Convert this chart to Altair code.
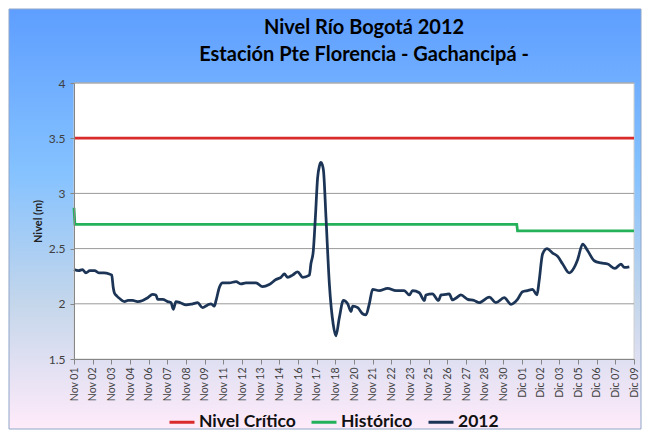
import json
import altair as alt
import pandas as pd

# ---- data -------------------------------------------------------------
x_labels = ["Nov 01", "Nov 02", "Nov 03", "Nov 04", "Nov 06", "Nov 07", "Nov 08",
            "Nov 09", "Nov 11", "Nov 12", "Nov 13", "Nov 14", "Nov 16", "Nov 17",
            "Nov 18", "Nov 20", "Nov 21", "Nov 22", "Nov 23", "Nov 25", "Nov 26",
            "Nov 27", "Nov 28", "Nov 30", "Dic 01", "Dic 02", "Dic 03", "Dic 05",
            "Dic 06", "Dic 07", "Dic 09"]
series_names = ["Nivel Crítico", "Histórico", "2012"]
series_colors = ["#d92b2b", "#25b05a", "#1c3557"]

y_ticks = [1.5, 2, 2.5, 3, 3.5, 4]
grid_values = [2, 2.5, 3, 3.5, 4]

critico_pos = [0, 30]
critico_val = [3.5, 3.5]

historico_pos = [0, 0.05, 23.72, 23.76, 30]
historico_val = [2.87, 2.72, 2.72, 2.66, 2.66]

y2012_pos = [0.00, 0.25, 0.45, 0.64, 0.85, 1.10, 1.36, 1.60, 1.89, 2.02, 2.10, 2.16,
             2.30, 2.43, 2.70, 2.90, 3.14, 3.40, 3.68, 3.95, 4.21, 4.39, 4.48, 4.75,
             5.02, 5.20, 5.32, 5.46, 5.70, 6.00, 6.36, 6.62, 6.89, 7.16, 7.34, 7.52,
             7.61, 7.79, 7.96, 8.32, 8.68, 8.95, 9.21, 9.57, 9.75, 10.10, 10.46, 10.82,
             11.09, 11.27, 11.45, 11.71, 11.98, 12.25, 12.61, 12.69, 12.82, 12.93, 13.05,
             13.15, 13.23, 13.30, 13.37, 13.50, 13.68, 13.89, 14.03, 14.21, 14.43, 14.66,
             14.84, 14.93, 15.20, 15.46, 15.64, 15.82, 16.00, 16.35, 16.80, 17.25, 17.69,
             17.96, 18.14, 18.50, 18.77, 18.85, 19.20, 19.53, 19.66, 19.93, 20.10, 20.28,
             20.45, 20.73, 21.09, 21.44, 21.71, 22.25, 22.60, 23.05, 23.41, 23.76, 24.03,
             24.30, 24.57, 24.80, 24.92, 25.10, 25.34, 25.64, 25.91, 26.18, 26.53, 26.80,
             26.98, 27.25, 27.52, 27.87, 28.23, 28.59, 28.98, 29.30, 29.48, 29.75]
y2012_val = [2.31, 2.30, 2.31, 2.28, 2.30, 2.30, 2.28, 2.28, 2.27, 2.26, 2.15, 2.10,
             2.07, 2.05, 2.02, 2.03, 2.03, 2.02, 2.03, 2.055, 2.085, 2.08, 2.04, 2.04,
             2.02, 2.01, 1.95, 2.02, 2.01, 1.99, 2.00, 2.01, 1.965, 1.99, 2.00, 1.98,
             2.03, 2.15, 2.19, 2.19, 2.20, 2.18, 2.19, 2.19, 2.19, 2.155, 2.175, 2.22,
             2.24, 2.27, 2.24, 2.26, 2.29, 2.24, 2.26, 2.36, 2.48, 2.78, 3.14,
             3.25, 3.28, 3.26, 3.20, 2.78, 2.18, 1.81, 1.71, 1.87, 2.03, 2.00,
             1.93, 1.98, 1.965, 1.91, 1.90, 2.00, 2.13, 2.12, 2.14, 2.12, 2.12,
             2.08, 2.12, 2.10, 2.03, 2.08, 2.09, 2.03, 2.08, 2.085, 2.09, 2.035,
             2.05, 2.08, 2.04, 2.03, 2.01, 2.06, 2.01, 2.055, 1.995, 2.04, 2.11,
             2.12, 2.13, 2.08, 2.21, 2.45, 2.50, 2.46, 2.43, 2.36, 2.28, 2.33,
             2.40, 2.54, 2.48, 2.39, 2.37, 2.36, 2.32, 2.36, 2.33, 2.335]

# ---- tables -----------------------------------------------------------
ref_rows = []
for name, pos, val in [(series_names[0], critico_pos, critico_val),
                       (series_names[1], historico_pos, historico_val)]:
    for i, (p, v) in enumerate(zip(pos, val)):
        ref_rows.append({"serie": name, "t": p, "v": v, "i": i})
ref_df = pd.DataFrame(ref_rows)
df2012 = pd.DataFrame({"serie": series_names[2], "t": y2012_pos, "v": y2012_val,
                       "i": list(range(len(y2012_pos)))})
grid_df = pd.DataFrame({"v": grid_values})
one = pd.DataFrame({"a": [0]})

W, H = 560, 276
FONT = "Lato"

xscale = alt.Scale(domain=[0, 30], nice=False, zero=False)
yscale = alt.Scale(domain=[1.5, 4], nice=False, zero=False)
cscale = alt.Scale(domain=series_names, range=series_colors)

xaxis = alt.Axis(values=list(range(len(x_labels))),
                 labelExpr=json.dumps(x_labels) + "[datum.value]",
                 labelAngle=-90, labelFont=FONT, labelFontSize=10.5, labelColor="#404040",
                 domainColor="#868686", tickColor="#868686", tickSize=5, labelPadding=3,
                 grid=False, title=None, zindex=1, labelOverlap=False,
                 labelFlush=False, labelBound=False)
yaxis = alt.Axis(values=y_ticks, format=".1~f", title="Nivel (m)", titleFont=FONT,
                 titleFontSize=11, titleFontWeight="bold", titleColor="#222222",
                 titlePadding=5, labelFont=FONT, labelFontSize=12, labelColor="#404040",
                 domainColor="#868686", tickColor="#868686", tickSize=4, labelPadding=5,
                 grid=False, zindex=1)
legend = alt.Legend(orient="none", legendX=94, legendY=325, direction="horizontal",
                    title=None, symbolType="stroke", symbolSize=625, symbolStrokeWidth=3,
                    labelFont=FONT, labelFontSize=17.5, labelFontWeight="bold",
                    labelColor="#111111", columnPadding=9, labelOffset=3, zindex=1,
                    padding=0)

gradient = alt.Gradient(gradient="linear", x1=0, x2=0, y1=0, y2=1,
                        stops=[alt.GradientStop(color="#5E9EFF", offset=0),
                               alt.GradientStop(color="#85C2FF", offset=0.39),
                               alt.GradientStop(color="#C4D6EB", offset=0.7),
                               alt.GradientStop(color="#FFEBFA", offset=1)])

bg = alt.Chart(one).mark_rect(fill=gradient, stroke="#8fa6c8", strokeWidth=1).encode(
    x=alt.value(-65), x2=alt.value(567), y=alt.value(-74), y2=alt.value(346))
plotbg = alt.Chart(one).mark_rect(fill="white", stroke="#d0d0d0", strokeWidth=1).encode(
    x=alt.value(0), x2=alt.value(W), y=alt.value(0), y2=alt.value(H))
grid = alt.Chart(grid_df).mark_rule(color="#9a9a9a", strokeWidth=1).encode(
    y=alt.Y("v:Q", scale=yscale, axis=yaxis), x=alt.value(0), x2=alt.value(W))

ref = alt.Chart(ref_df).mark_line(strokeWidth=2.75, interpolate="linear").encode(
    x=alt.X("t:Q", scale=xscale, axis=xaxis),
    y=alt.Y("v:Q", scale=yscale, axis=yaxis),
    color=alt.Color("serie:N", scale=cscale, legend=legend, sort=series_names),
    order=alt.Order("i:Q"))
l2012 = alt.Chart(df2012).mark_line(strokeWidth=2.75, interpolate="monotone").encode(
    x=alt.X("t:Q", scale=xscale, axis=xaxis),
    y=alt.Y("v:Q", scale=yscale, axis=yaxis),
    color=alt.Color("serie:N", scale=cscale, legend=legend, sort=series_names),
    order=alt.Order("i:Q"))

chart = alt.layer(bg, plotbg, grid, ref, l2012).properties(
    width=W, height=H, padding=0,
    title=alt.TitleParams(text=["Nivel Río Bogotá 2012", "Estación Pte Florencia - Gachancipá -"],
                          font=FONT, fontSize=20, fontWeight="bold", color="#000000",
                          lineHeight=27, anchor="middle", dx=10, dy=3, offset=-53, zindex=1)
).configure_view(stroke="transparent")

chart.save("out.html", embed_options={"renderer": "svg", "actions": False})
